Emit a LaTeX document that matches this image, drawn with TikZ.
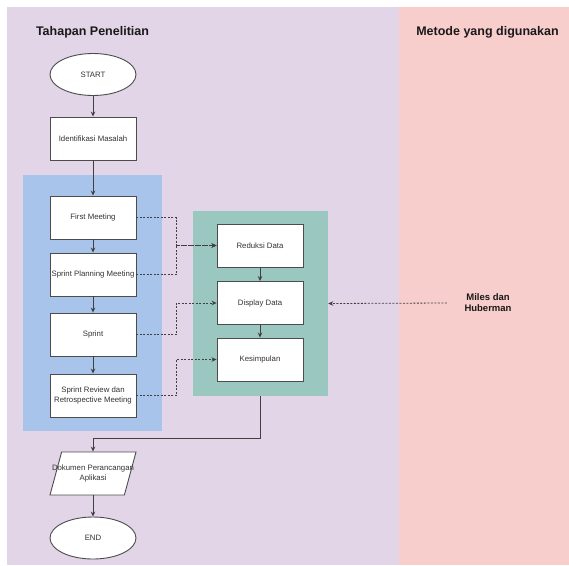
\documentclass[tikz,border=0pt]{standalone}
\usepackage{fontspec}
\setmainfont{Liberation Sans}
\usetikzlibrary{arrows.meta, shapes.geometric}

\definecolor{lanePurple}{HTML}{E1D5E7}
\definecolor{lanePink}{HTML}{F8CECC}
\definecolor{scrumBlue}{HTML}{A9C4EB}
\definecolor{analysisTeal}{HTML}{9AC7BF}
\definecolor{inkGray}{HTML}{333333}

\begin{document}
\begin{tikzpicture}[x=1pt, y=-1pt, >={Stealth[length=5pt, width=4.5pt]},
  box/.style={draw=black!70, fill=white, line width=0.9pt, minimum width=86pt,
    minimum height=43pt, inner sep=1pt, align=center, text=inkGray,
    font=\fontsize{7.8}{9.5}\selectfont},
  term/.style={box, ellipse, minimum height=42pt},
  flow/.style={->, draw=black!75, line width=0.9pt},
  link/.style={->, draw=black!75, line width=0.8pt, dash pattern=on 2pt off 1.5pt},
  heading/.style={font=\bfseries\fontsize{12.5}{15}\selectfont, text=black!90}]

  \useasboundingbox (0,0) rectangle (569,565);

  % Lanes
  \fill[white] (0,0) rectangle (569,565);
  \fill[lanePurple] (7,7) rectangle (399,565);
  \fill[lanePink] (399,7) rectangle (569,565);
  \node[heading] (tahapan) at (92.5,32) {Tahapan Penelitian};
  \node[heading] (metode) at (487.5,32) {Metode yang digunakan};

  % Groups
  \node[fill=scrumBlue, inner sep=0, minimum width=139pt, minimum height=256pt] (scrum) at (92.5,303) {};
  \node[fill=analysisTeal, inner sep=0, minimum width=135pt, minimum height=185pt] (analysis) at (260.5,303.5) {};

  % Research steps
  \node[term] (start) at (93,74.5) {START};
  \node[box] (idm) at (93,138.5) {Identifikasi Masalah};
  \node[box] (fm) at (93,217.5) {First Meeting};
  \node[box] (spm) at (93,274.5) {Sprint Planning Meeting};
  \node[box] (sp) at (93,334.5) {Sprint};
  \node[box] (srm) at (93,395.5) {Sprint Review dan\\Retrospective Meeting};

  % Analysis steps
  \node[box] (rd) at (260,245.5) {Reduksi Data};
  \node[box] (dd) at (260,303) {Display Data};
  \node[box] (ks) at (260,359.5) {Kesimpulan};

  % Output and end
  \node[box, shape=trapezium, trapezium left angle=79.5, trapezium right angle=100.5,
    trapezium stretches=true,
    label={[align=center, text=inkGray, font=\fontsize{7.8}{9.5}\selectfont]center:Dokumen Perancangan\\Aplikasi}] (doc) at (93,473.5) {};
  \node[term] (end) at (93,538) {END};

  \node[font=\bfseries\fontsize{9.5}{11}\selectfont, align=center, text=black!90] (mh) at (488,303) {Miles dan\\Huberman};

  % Main flow
  \draw[flow] (start) -- (idm);
  \draw[flow] (idm) -- (fm);
  \draw[flow] (fm) -- (spm);
  \draw[flow] (spm) -- (sp);
  \draw[flow] (sp) -- (srm);
  \draw[flow] (rd) -- (dd);
  \draw[flow] (dd) -- (ks);
  \draw[flow] (analysis.south) -- ++(0,42) -| (doc.north);
  \draw[flow] (doc) -- (end);

  % Dotted links
  \draw[link] (fm.east) -- ++(40,0) |- (rd.west);
  \draw[link] (spm.east) -- ++(40,0) |- (rd.west);
  \draw[link] (sp.east) -- ++(40,0) |- (dd.west);
  \draw[link] (srm.east) -- ++(40,0) |- (ks.west);
  \draw[link] ([xshift=-14pt]mh.west) -- (analysis.east);

\end{tikzpicture}
\end{document}
